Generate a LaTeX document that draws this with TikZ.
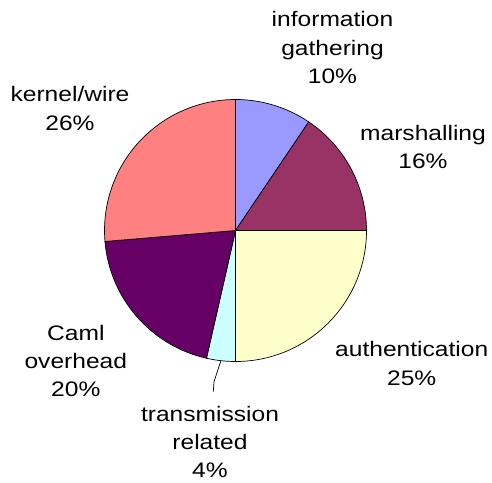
\documentclass[tikz,border=0pt]{standalone}
\usepackage{fontspec}
\setmainfont[FakeStretch=1.17]{Liberation Sans}
\usetikzlibrary{calc}

\definecolor{infocol}{HTML}{9999FF}
\definecolor{marshcol}{HTML}{993366}
\definecolor{authcol}{HTML}{FFFFCC}
\definecolor{transcol}{HTML}{CCFFFF}
\definecolor{camlcol}{HTML}{660066}
\definecolor{kernelcol}{HTML}{FF8080}

\begin{document}
\begin{tikzpicture}[x=1pt, y=1pt,
                    slice/.style={draw=black, line width=0.7pt},
                    pie label/.style={align=center, inner sep=0pt,
                                      font=\fontsize{21}{28.3}\selectfont}]

  \useasboundingbox (0,0) rectangle (492,-482);
  \coordinate (c) at (235.5,-230.5);

  % slices, clockwise from the top
  \foreach \from/\to/\col in {56/90/infocol, 0/56/marshcol, -90/0/authcol,
                              -102.8/-90/transcol, -175.2/-102.8/camlcol,
                              90/184.8/kernelcol}
    \filldraw[slice, fill=\col] (c) -- ++(\from:131)
      arc[start angle=\from, end angle=\to, radius=131] -- cycle;

  % labels
  \node[pie label, anchor=base] (info) at (332.5,-83.3) {information\\gathering\\10\%};
  \node[pie label, anchor=base] (marsh) at (423,-168.3) {marshalling\\16\%};
  \node[pie label, anchor=base] (auth) at (411.7,-385) {authentication\\25\%};
  \node[pie label, anchor=base] (trans) at (210,-477.6) {transmission\\related\\4\%};
  \node[pie label, anchor=base] (caml) at (75.8,-396.6) {Caml\\overhead\\20\%};
  \node[pie label, anchor=base] (kernel) at (70,-130) {kernel/wire\\26\%};

  % leader for the small slice
  \coordinate (trans edge) at ($(c)+(-96.4:131)$);
  \coordinate (trans bend) at (214,-381.7);
  \coordinate (trans end) at (213.3,-391.7);
  \draw[line width=0.7pt] (trans edge) -- (trans bend) -- (trans end);

\end{tikzpicture}
\end{document}
